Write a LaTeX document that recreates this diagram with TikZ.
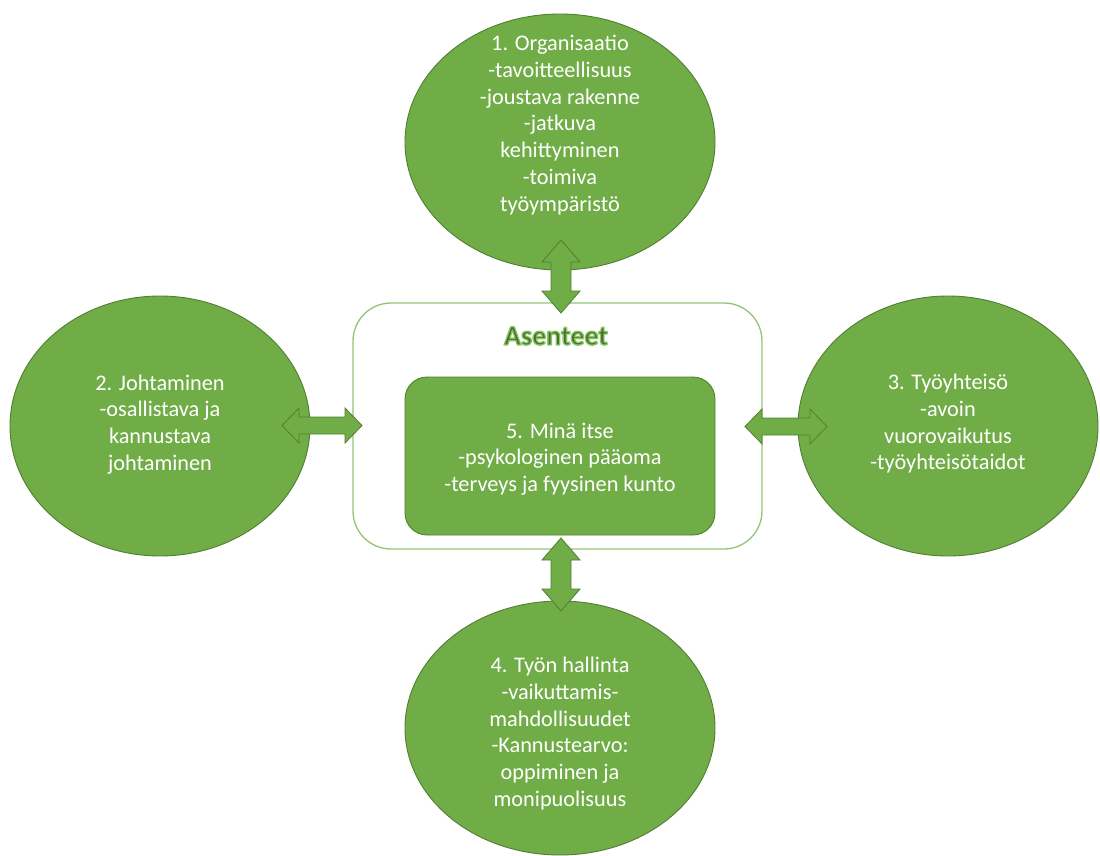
\documentclass[tikz,border=0pt]{standalone}
\usepackage{fontspec}
\setmainfont{Carlito}
\usepackage{tikz}
\usetikzlibrary{shapes.geometric}
\usetikzlibrary{calc}
\definecolor{leaf}{HTML}{70AD47}
\definecolor{darkleaf}{HTML}{507E32}
\definecolor{paleleaf}{HTML}{94C375}
\tikzset{
  blob/.style={ellipse,draw=darkleaf,fill=leaf,line width=0.9pt,inner sep=0pt},
  frame/.style={rectangle,draw=paleleaf,line width=1.3pt,rounded corners=38pt,
    minimum width=409pt,minimum height=246pt},
  core/.style={rectangle,draw=darkleaf,fill=leaf,line width=0.9pt,rounded corners=22pt,
    minimum width=310pt,minimum height=158pt},
  words/.style={text=white,align=center,inner sep=0pt,
    font=\fontsize{22.3}{26.7}\selectfont},
  headline/.style={text=leaf!65!black,inner sep=0pt,font=\fontsize{28}{32}\selectfont\bfseries},
  fatarrow/.style={draw=darkleaf,fill=leaf,line width=0.8pt,line join=miter}
}
% outlined (glowing) text
\newcommand{\glowtext}[1]{\special{pdf:literal direct 2 Tr 1.3 w 1 j 0.55 0.78 0.40 RG}#1\special{pdf:literal direct 0 Tr}}
% wide double arrows between two tips
\newcommand{\vfat}[2]{\draw[fatarrow] (#1) -- ++(19,22) -- ++(-9,0) -- ($(#2)+(10,-22)$)
  -- ++(9,0) -- (#2) -- ++(-19,-22) -- ++(9,0) -- ($(#1)+(-10,22)$) -- ++(-9,0) -- cycle;}
\newcommand{\hfat}[2]{\draw[fatarrow] (#1) -- ++(17,-17.5) -- ++(0,9) -- ($(#2)+(-17,-8.5)$)
  -- ++(0,-9) -- (#2) -- ++(-17,17.5) -- ++(0,-9) -- ($(#1)+(17,8.5)$) -- ++(0,9) -- cycle;}
\begin{document}
\begin{tikzpicture}[x=1pt,y=-1pt]
  \useasboundingbox (0,0) rectangle (1100,856);
  % circles around the centre
  \node (org) [blob,minimum width=310pt,minimum height=256pt] at (560,142) {};
  \node (lead) [blob,minimum width=300pt,minimum height=260pt] at (160,426) {};
  \node (comm) [blob,minimum width=300pt,minimum height=260pt] at (948,426) {};
  \node (work) [blob,minimum width=310pt,minimum height=254pt] at (560,728) {};
  \node (frm) [frame] at (557.5,426) {};
  \node (self) [core] at (560,456) {};
  % texts
  \node (orgtext) [words] at (560,125) {1. Organisaatio\\-tavoitteellisuus\\-joustava rakenne\\
    -jatkuva\\kehittyminen\\-toimiva\\työympäristö};
  \node (leadtext) [words] at (160,424.5) {2. Johtaminen\\-osallistava ja\\kannustava\\johtaminen};
  \node (commtext) [words] at (948,424) {3. Työyhteisö\\-avoin\\vuorovaikutus\\-työyhteisötaidot};
  \node (worktext) [words] at (560,733.5) {4. Työn hallinta\\-vaikuttamis-\\mahdollisuudet\\
    -Kannustearvo:\\oppiminen ja\\monipuolisuus};
  \node (selftext) [words] at (560,459) {5. Minä itse\\-psykologinen pääoma\\-terveys ja fyysinen kunto};
  \node (att) [headline] at (556,336) {\glowtext{Asenteet}};
  % arrows
  \coordinate (up1) at (561,240);
  \coordinate (up2) at (561,313);
  \coordinate (dn1) at (561,538);
  \coordinate (dn2) at (561,611);
  \coordinate (lt1) at (282,425.5);
  \coordinate (lt2) at (362,425.5);
  \coordinate (rt1) at (745,426.5);
  \coordinate (rt2) at (827,426.5);
  \vfat{up1}{up2}
  \vfat{dn1}{dn2}
  \hfat{lt1}{lt2}
  \hfat{rt1}{rt2}
\end{tikzpicture}
\end{document}
